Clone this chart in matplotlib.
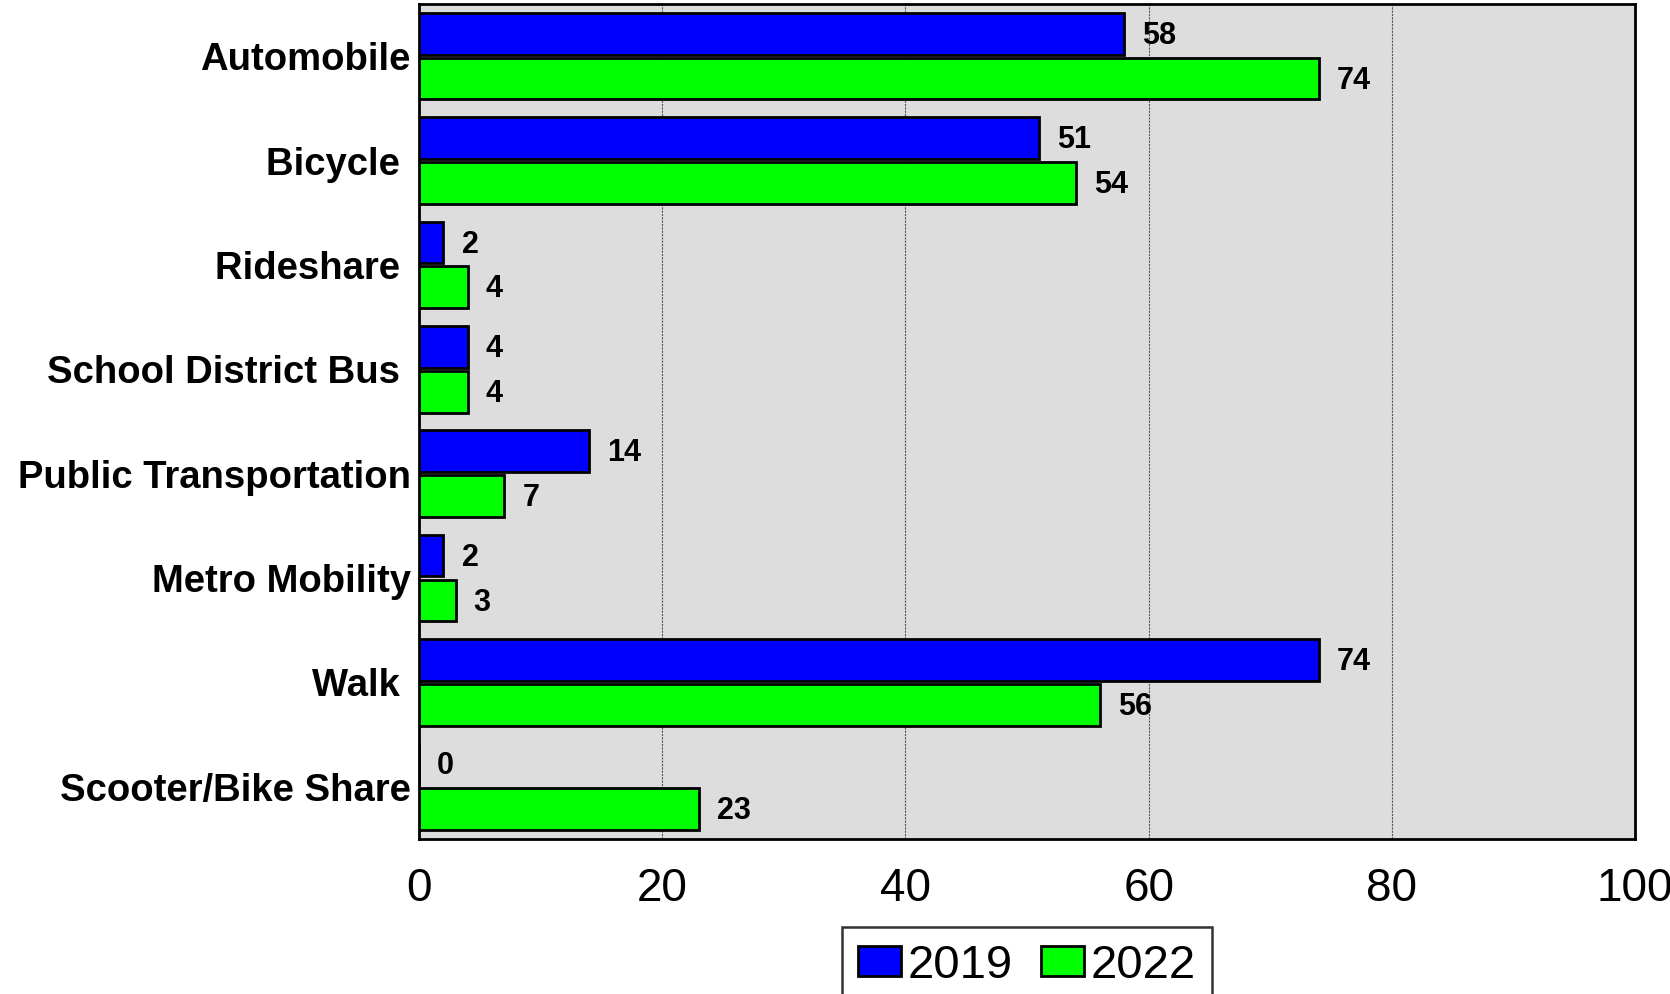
import matplotlib
matplotlib.use("Agg")
import matplotlib.pyplot as plt
import numpy as np

plt.rcParams['font.family'] = ['Liberation Sans', 'DejaVu Sans']

# data
categories = ["Automobile", "Bicycle ", "Rideshare ", "School District Bus ",
              "Public Transportation", "Metro Mobility", "Walk ", "Scooter/Bike Share"]
vals_2019 = [58, 51, 2, 4, 14, 2, 74, 0]
vals_2022 = [74, 54, 4, 4, 7, 3, 56, 23]
years = ["2019", "2022"]
colors = ["#0000ff", "#00ff00"]

fig = plt.figure(figsize=(16.7, 9.94), dpi=100)
ax = fig.add_axes([0.251, 0.156, 0.728, 0.840])
ax.set_facecolor("#dddddd")

y = np.arange(len(categories))
h = 0.40
off = 0.215

for vals, dy, col, lab in [(vals_2019, -off, colors[0], years[0]),
                           (vals_2022, off, colors[1], years[1])]:
    bars = ax.barh(y + dy, vals, height=h, color=col, edgecolor="black",
                   linewidth=2.0, label=lab, zorder=3)
    for b, v in zip(bars, vals):
        ax.annotate(str(v), (v, b.get_y() + b.get_height() / 2),
                    xytext=(13, -1.5), textcoords="offset points",
                    ha="left", va="center", fontsize=22, fontweight="bold")

ax.set_xlim(0, 100)
ax.set_ylim(len(categories) - 0.5, -0.5)
ax.set_xticks([0, 20, 40, 60, 80, 100])
ax.set_yticks(y)
ax.set_yticklabels(categories, fontsize=27.5, fontweight="bold")
ax.tick_params(axis="y", length=0, pad=6)
ax.tick_params(axis="x", length=0, pad=20, labelsize=33)
ax.xaxis.grid(True, color="#555555", linewidth=0.8, linestyle=(0, (2, 1)), zorder=1)
ax.set_axisbelow(True)
for s in ax.spines.values():
    s.set_linewidth(2)
    s.set_color("black")

leg = fig.legend(loc="upper center", bbox_to_anchor=(0.615, 0.0674),
                 bbox_transform=fig.transFigure, ncol=2, fontsize=34,
                 frameon=True, fancybox=False, edgecolor="black",
                 handlelength=0.9, handleheight=0.62, handletextpad=0.15,
                 columnspacing=0.6, borderpad=0.35, borderaxespad=0)
leg.get_frame().set_linewidth(1.8)

fig.savefig("out.png", dpi=100)
